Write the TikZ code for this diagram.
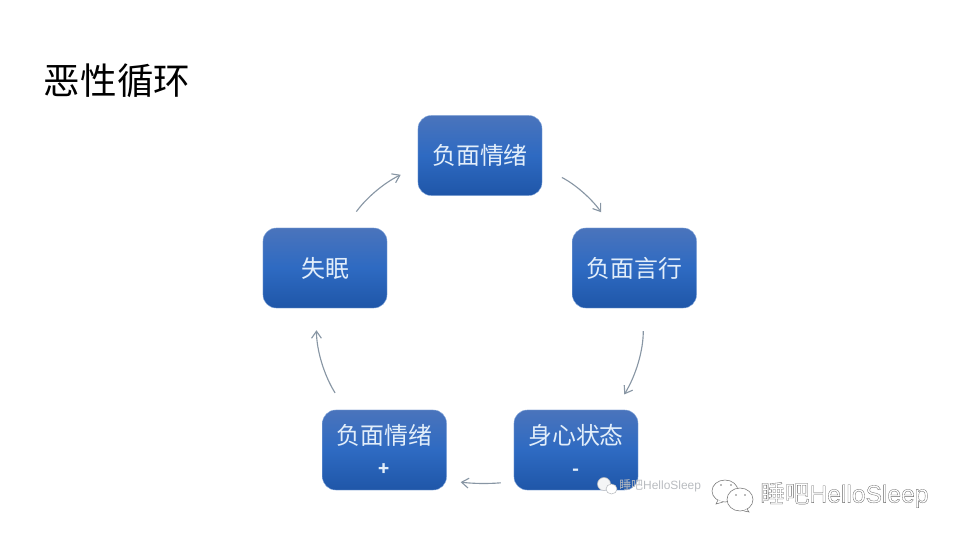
\documentclass[tikz,border=0pt]{standalone}
\usepackage{fontspec}
\setmainfont{Noto Sans CJK SC}
\setsansfont{Liberation Sans}
\usetikzlibrary{arrows.meta}
\definecolor{boxtop}{RGB}{74,116,188}
\definecolor{boxmid}{RGB}{46,106,194}
\definecolor{boxbot}{RGB}{31,86,168}
\definecolor{boxtext}{RGB}{226,238,250}
\definecolor{arrowgray}{RGB}{136,150,164}
\definecolor{markgray}{RGB}{120,120,120}
\definecolor{marklight}{RGB}{185,188,192}
\newcommand{\hollowtext}[1]{\special{pdf:code 1 Tr 0.22 w 0.4 G}#1\special{pdf:code 0 Tr}}
\newcommand{\signtext}[1]{\fontsize{13}{22}\selectfont\textbf{#1}}
\tikzset{
  stagebox/.style={rounded corners=0.33cm, minimum width=3.1cm, minimum height=2cm, inner sep=0pt,
    top color=boxtop, bottom color=boxbot, middle color=boxmid, draw=boxmid!55!white, line width=0.3pt,
    text=boxtext, align=center, font=\fontsize{17}{22}\selectfont},
  cyclearrow/.style={draw=arrowgray, line width=0.8pt, -{Straight Barb[length=5pt,width=7pt]}},
  markicon/.style={draw=markgray, line width=0.4pt, fill=white},
  smallicon/.style={draw=marklight, line width=0.4pt}
}
\begin{document}
\begin{tikzpicture}[x=0.025cm,y=-0.025cm]
\useasboundingbox (0,0) rectangle (960,540);

\node (title) at (117,81) {\fontsize{26}{30}\selectfont 恶性循环};

\foreach \x/\y/\name/\A in {480/155.5/mood/负面情绪, 634.5/268/speech/负面言行, 576/450/body/{身心状态\\\signtext{-}}, 384.5/450/moodplus/{负面情绪\\\signtext{+}}, 325/268/insomnia/失眠} {%
    \node[stagebox] (\name) at (\x,\y) {\A};
}

\foreach \a/\p/\b/\q/\bend/\sa/\sb in {mood/-11/speech/119/14/22/19, speech/-78/body/46/16/23/18, body/207.3/moodplus/-26.4/6/13/14, moodplus/134/insomnia/258.7/16/20/22, insomnia/64.6/mood/190.5/14/20/19} {%
    \draw[cyclearrow, shorten <=\sa*0.711pt, shorten >=\sb*0.711pt] (\a.\p) to[bend left=\bend] (\b.\q);
}

\draw[markicon] (725,491) ellipse (13 and 11);
\draw[markicon] (718,500) -- (716,504) -- (723,502);
\draw[markicon] (740,499.5) ellipse (13 and 11.5);
\draw[markicon] (747,509) -- (749,512) -- (744,511);
\foreach \x/\y in {721/485, 731/485, 736/495, 745/495} {%
    \fill[markgray] (\x,\y) circle (0.8);
}
\node[text=white, anchor=west, inner sep=0pt] (markbig) at (760,495) {\fontsize{17.5}{20}\selectfont \hollowtext{睡吧\sffamily HelloSleep}};

\draw[smallicon, fill=white!85!marklight] (604,484) ellipse (6.5 and 6.5);
\draw[smallicon, fill=white] (611.5,489) ellipse (5.5 and 5);
\node[text=marklight, anchor=west, inner sep=0pt] (marksmall) at (619,486) {\fontsize{8.5}{10}\selectfont 睡吧\sffamily HelloSleep};
\end{tikzpicture}
\end{document}
